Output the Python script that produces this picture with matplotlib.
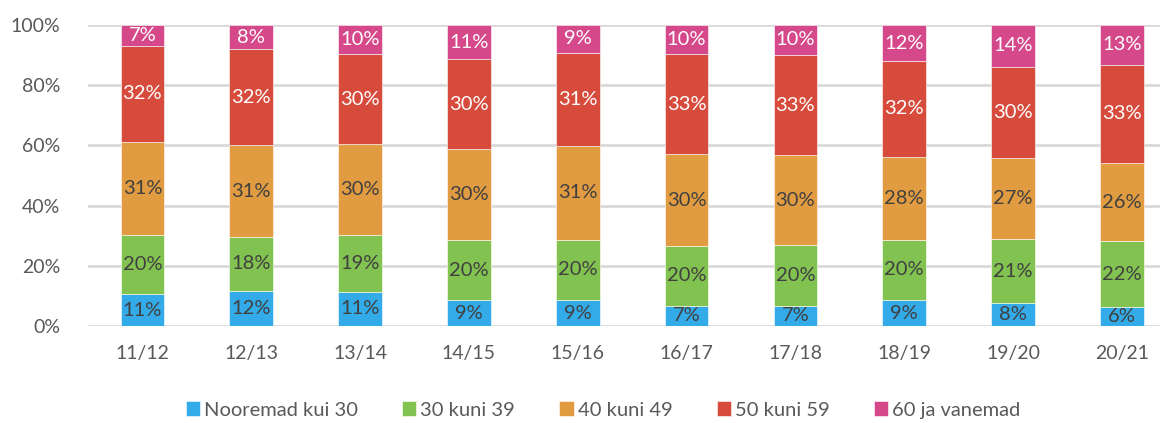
import matplotlib
matplotlib.use("Agg")
import matplotlib.pyplot as plt
import numpy as np

plt.rcParams['font.family'] = ['Lato', 'DejaVu Sans']

seasons = ['11/12', '12/13', '13/14', '14/15', '15/16',
           '16/17', '17/18', '18/19', '19/20', '20/21']

# shares in percent
under30 = [10.6, 11.7, 11.3, 8.6, 8.6, 6.8, 6.8, 8.6, 7.6, 6.2]
age30_39 = [19.6, 17.8, 18.8, 19.9, 20.1, 19.8, 20.0, 20.1, 21.2, 21.9]
age40_49 = [30.9, 30.6, 30.4, 30.4, 31.0, 30.4, 29.9, 27.6, 26.9, 26.1]
age50_59 = [32.0, 31.8, 29.8, 29.7, 31.0, 33.4, 33.4, 31.7, 30.4, 32.6]
over60 = [6.9, 8.1, 9.7, 11.4, 9.3, 9.6, 9.9, 12.0, 13.9, 13.2]

series = [under30, age30_39, age40_49, age50_59, over60]
names = ['Nooremad kui 30', '30 kuni 39', '40 kuni 49', '50 kuni 59', '60 ja vanemad']
colors = ['#33abe9', '#82c250', '#e19b40', '#d64b3b', '#d5488a']
text_colors = ['#404040', '#404040', '#404040', 'white', 'white']

fig = plt.figure(figsize=(11.6, 4.23), dpi=100)
ax = fig.add_axes([88 / 1160, 1 - 326 / 423, 1 - 88 / 1160, (326 - 25) / 423])

x = np.arange(len(seasons))
bottom = np.zeros(len(seasons))
handles = []
for vals, name, col, tcol in zip(series, names, colors, text_colors):
    vals = np.array(vals)
    b = ax.bar(x, vals, 0.4, bottom=bottom, color=col, label=name,
               edgecolor='white', linewidth=0.4, zorder=3)
    handles.append(b)
    for xi, v, bt in zip(x, vals, bottom):
        ax.text(xi, bt + v / 2, '{:.0f}%'.format(v), ha='center', va='center',
                fontsize=14.5, color=tcol, zorder=4)
    bottom += vals

ax.set_ylim(0, 100)
ax.set_xlim(-0.5, 9.35)
ax.set_yticks(range(0, 101, 20))
ax.set_yticklabels(['{}%'.format(t) for t in range(0, 101, 20)])
ax.set_xticks(x)
ax.set_xticklabels(seasons)
ax.tick_params(axis='both', length=0, labelsize=14, colors='#595959')
ax.tick_params(axis='y', pad=20)
ax.tick_params(axis='x', pad=14)
ax.grid(axis='y', color='#d9d9d9', linewidth=2, zorder=0)
ax.set_axisbelow(True)
for s in ax.spines.values():
    s.set_visible(False)

fig.legend(handles=handles, loc='center', bbox_to_anchor=(603 / 1160, 1 - 410 / 423),
           ncol=5, frameon=False, fontsize=14.5, handlelength=0.7, handleheight=0.7,
           handletextpad=0.2, columnspacing=2.2, labelcolor='#595959')

fig.savefig('out.png', dpi=100)
